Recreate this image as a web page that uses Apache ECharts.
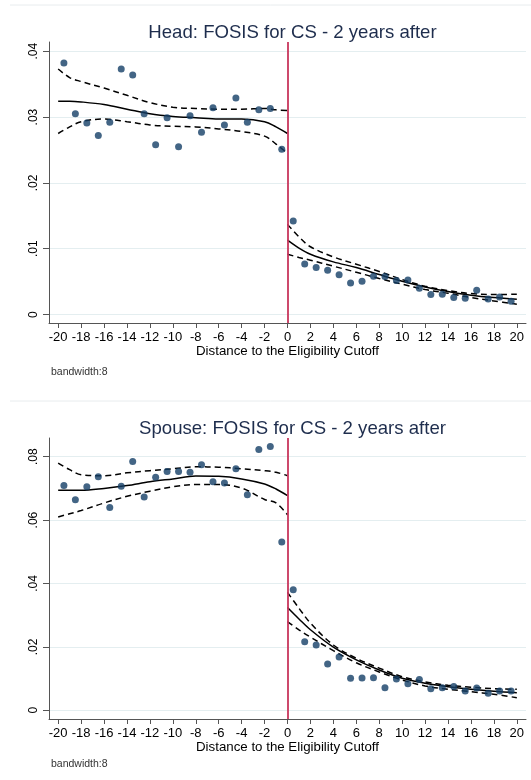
<!DOCTYPE html>
<html>
<head>
<meta charset="utf-8">
<script src="https://cdn.jsdelivr.net/npm/echarts@6/dist/echarts.min.js"></script>
<style>
  html, body { margin: 0; padding: 0; background: #ffffff; }
  #chart { width: 531px; height: 780px; }
</style>
</head>
<body>
<div id="chart"></div>
<script>
// Bin centres of the running variable (distance to the eligibility cutoff)
const binCenters = [-19.5, -18.5, -17.5, -16.5, -15.5, -14.5, -13.5, -12.5, -11.5, -10.5,
                    -9.5, -8.5, -7.5, -6.5, -5.5, -4.5, -3.5, -2.5, -1.5, -0.5,
                    0.5, 1.5, 2.5, 3.5, 4.5, 5.5, 6.5, 7.5, 8.5, 9.5,
                    10.5, 11.5, 12.5, 13.5, 14.5, 15.5, 16.5, 17.5, 18.5, 19.5];

// Head: binned means
const headMeans = [0.0382, 0.0305, 0.0291, 0.0272, 0.0292, 0.0373, 0.0364, 0.0305, 0.0258, 0.0299,
                   0.0255, 0.0302, 0.0277, 0.0314, 0.0288, 0.0329, 0.0292, 0.0311, 0.0313, 0.0251,
                   0.0142, 0.0077, 0.00715, 0.00674, 0.00603, 0.00481, 0.00506, 0.00583, 0.00578, 0.00517,
                   0.00527, 0.0040, 0.00304, 0.00309, 0.00259, 0.00248, 0.0037, 0.00238, 0.00268, 0.00202];

// Spouse: binned means
const spouseMeans = [0.0709, 0.0664, 0.0705, 0.0737, 0.0640, 0.0707, 0.0785, 0.0673, 0.0735, 0.0753,
                     0.0753, 0.0751, 0.0775, 0.0721, 0.0717, 0.0762, 0.0680, 0.0823, 0.0832, 0.0531,
                     0.0380, 0.0216, 0.0206, 0.0146, 0.0168, 0.0101, 0.0102, 0.0103, 0.0071, 0.0099,
                     0.0084, 0.0097, 0.0068, 0.0071, 0.0075, 0.0061, 0.0070, 0.0054, 0.0061, 0.0061];

// Evaluation points for the local fits on each side of the cutoff
const fitLeftX  = [-20, -19, -18, -16, -14, -12, -10, -8, -6, -4, -2, -1, 0];
const fitRightX = [0, 1, 2, 4, 6, 8, 10, 12, 14, 16, 18, 20];

// Head: fitted values and 95% band
const headFitL   = [0.0324, 0.0324, 0.0323, 0.0319, 0.0312, 0.0305, 0.0301, 0.0299, 0.0297, 0.0297, 0.0293, 0.0285, 0.0275];
const headUpperL = [0.0373, 0.0360, 0.0354, 0.0344, 0.0333, 0.0322, 0.0315, 0.0313, 0.0312, 0.0312, 0.0313, 0.0311, 0.0310];
const headLowerL = [0.0275, 0.0285, 0.0293, 0.0297, 0.0293, 0.0288, 0.0286, 0.0285, 0.0282, 0.0278, 0.0271, 0.0259, 0.0245];
const headFitR   = [0.0113, 0.0101, 0.00917, 0.0080, 0.00715, 0.00608, 0.00506, 0.0042, 0.0035, 0.00294, 0.00258, 0.00233];
const headUpperR = [0.0137, 0.0118, 0.0103, 0.00876, 0.00765, 0.00654, 0.00532, 0.0043, 0.00365, 0.00319, 0.00304, 0.00309];
const headLowerR = [0.00917, 0.00867, 0.00826, 0.00735, 0.00643, 0.00548, 0.00461, 0.0038, 0.00324, 0.00259, 0.00207, 0.00157];

// Spouse: fitted values and 95% band
const spouseFitL   = [0.0694, 0.0694, 0.0694, 0.0700, 0.0709, 0.0721, 0.0730, 0.0739, 0.0738, 0.0730, 0.0714, 0.0698, 0.0677];
const spouseUpperL = [0.0780, 0.0759, 0.0743, 0.0740, 0.0749, 0.0756, 0.0762, 0.0768, 0.0767, 0.0762, 0.0756, 0.0751, 0.0740];
const spouseLowerL = [0.0610, 0.0620, 0.0630, 0.0654, 0.0675, 0.0691, 0.0705, 0.0712, 0.0712, 0.0701, 0.0665, 0.0654, 0.0617];
const spouseFitR   = [0.0324, 0.0288, 0.0254, 0.0199, 0.0159, 0.0127, 0.0101, 0.00853, 0.00746, 0.00663, 0.0060, 0.00556];
const spouseUpperR = [0.0372, 0.0322, 0.0275, 0.0206, 0.0164, 0.0133, 0.0106, 0.00894, 0.0079, 0.00727, 0.00682, 0.00663];
const spouseLowerR = [0.0280, 0.0254, 0.0231, 0.0188, 0.0150, 0.0121, 0.00957, 0.00768, 0.00663, 0.00588, 0.00505, 0.00398];

// Tick labels
const xTicks = [-20, -18, -16, -14, -12, -10, -8, -6, -4, -2, 0, 2, 4, 6, 8, 10, 12, 14, 16, 18, 20];
const headYTicks = [0, 0.01, 0.02, 0.03, 0.04];
const spouseYTicks = [0, 0.02, 0.04, 0.06, 0.08];

const panelTitles = ['Head: FOSIS for CS - 2 years after', 'Spouse: FOSIS for CS - 2 years after'];
const xTitle = 'Distance to the Eligibility Cutoff';
const noteText = 'bandwidth:8';

const FONT = '"Liberation Sans", Arial, sans-serif';
const NAVY = '#143e66';
const CUTOFF = '#c8365c';

const pairs = (xs, ys) => xs.map((x, i) => [x, ys[i]]);
const fmtY = v => (v === 0 ? '0' : v.toFixed(2).replace(/^0/, ''));

function xAxisFor(gridIndex) {
  return {
    type: 'value', gridIndex, min: -20.8, max: 20.8,
    name: xTitle, nameLocation: 'middle', nameGap: 21,
    nameTextStyle: { fontFamily: FONT, fontSize: 13.3, color: '#000' },
    axisLine: { show: true, onZero: false, lineStyle: { color: '#555', width: 1 } },
    axisTick: { show: true, length: 5, customValues: xTicks, lineStyle: { color: '#555' } },
    axisLabel: { customValues: xTicks, margin: 8, fontFamily: FONT, fontSize: 13, color: '#000' },
    splitLine: { show: false }
  };
}
function yAxisFor(gridIndex, min, max, ticks) {
  return {
    type: 'value', gridIndex, min, max,
    axisLine: { show: true, onZero: false, lineStyle: { color: '#555', width: 1 } },
    axisTick: { show: true, length: 6, customValues: ticks, lineStyle: { color: '#555' } },
    axisLabel: { customValues: ticks, rotate: 90, margin: 9, fontFamily: FONT, fontSize: 12, color: '#000',
                 formatter: fmtY },
    splitLine: { show: true, lineStyle: { color: '#e4eef0', width: 1 } }
  };
}
function panelSeries(idx, means, fits) {
  const lineBase = (data, dashed) => ({
    type: 'line', xAxisIndex: idx, yAxisIndex: idx, data, smooth: 0.35,
    showSymbol: false, silent: true, z: 3,
    lineStyle: { color: '#000', width: 1.5, type: dashed ? [6, 4] : 'solid' }
  });
  return [
    {
      type: 'scatter', xAxisIndex: idx, yAxisIndex: idx, z: 4,
      data: pairs(binCenters, means), symbolSize: 7,
      itemStyle: { color: NAVY },
      markLine: {
        silent: true, symbol: 'none', label: { show: false },
        lineStyle: { color: CUTOFF, width: 1.8, type: 'solid' },
        data: [{ xAxis: 0 }]
      }
    },
    lineBase(pairs(fitLeftX, fits[0]), false),
    lineBase(pairs(fitLeftX, fits[1]), true),
    lineBase(pairs(fitLeftX, fits[2]), true),
    lineBase(pairs(fitRightX, fits[3]), false),
    lineBase(pairs(fitRightX, fits[4]), true),
    lineBase(pairs(fitRightX, fits[5]), true)
  ];
}

const chart = echarts.init(document.getElementById('chart'), null, { renderer: 'canvas' });
chart.setOption({
  animation: false,
  backgroundColor: '#ffffff',
  title: [
    { text: panelTitles[0], left: 287.5, textAlign: 'center', top: 18,
      textStyle: { fontFamily: FONT, fontSize: 18.6, fontWeight: 'normal', color: '#1e2d4d' } },
    { text: panelTitles[1], left: 287.5, textAlign: 'center', top: 414,
      textStyle: { fontFamily: FONT, fontSize: 18.6, fontWeight: 'normal', color: '#1e2d4d' } }
  ],
  grid: [
    { left: 49, top: 42, width: 477, height: 281 },
    { left: 49, top: 438, width: 477, height: 281 }
  ],
  xAxis: [xAxisFor(0), xAxisFor(1)],
  yAxis: [
    yAxisFor(0, -0.00128, 0.0414, headYTicks),
    yAxisFor(1, -0.00275, 0.0859, spouseYTicks)
  ],
  graphic: [
    { type: 'line', shape: { x1: 10, y1: 5, x2: 531, y2: 5 }, style: { stroke: '#e8ecee', lineWidth: 1 } },
    { type: 'line', shape: { x1: 10, y1: 401, x2: 531, y2: 401 }, style: { stroke: '#e8ecee', lineWidth: 1 } },
    { type: 'text', left: 51, top: 367, style: { text: noteText, fontFamily: FONT, fontSize: 10.5, fill: '#333' } },
    { type: 'text', left: 51, top: 759, style: { text: noteText, fontFamily: FONT, fontSize: 10.5, fill: '#333' } }
  ],
  series: [
    ...panelSeries(0, headMeans, [headFitL, headUpperL, headLowerL, headFitR, headUpperR, headLowerR]),
    ...panelSeries(1, spouseMeans, [spouseFitL, spouseUpperL, spouseLowerL, spouseFitR, spouseUpperR, spouseLowerR])
  ]
});
</script>
</body>
</html>
